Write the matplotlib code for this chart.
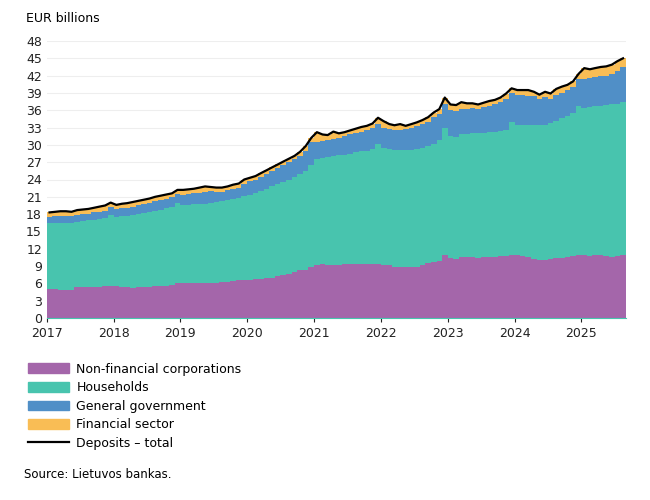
import numpy as np
import pandas as pd
import matplotlib
matplotlib.use('Agg')
import matplotlib.pyplot as plt
import matplotlib.dates as mdates
from matplotlib.patches import Patch
from matplotlib.lines import Line2D

# Monthly data, Jan 2017 - Aug 2025 (EUR billions), cumulative levels
months = pd.date_range('2017-01-01', '2025-08-01', freq='MS')

nfc = [5.0, 5.0, 4.9, 4.9, 4.8, 5.3, 5.3, 5.3, 5.4, 5.4, 5.5, 5.6,
       5.5, 5.4, 5.3, 5.2, 5.3, 5.4, 5.4, 5.6, 5.6, 5.6, 5.8, 6.0,
       6.1, 6.1, 6.0, 6.0, 6.0, 6.0, 6.1, 6.2, 6.3, 6.4, 6.5, 6.6,
       6.6, 6.7, 6.8, 6.9, 7.0, 7.2, 7.4, 7.6, 8.0, 8.3, 8.3, 8.8,
       9.1, 9.3, 9.2, 9.2, 9.2, 9.3, 9.3, 9.3, 9.3, 9.4, 9.3, 9.4,
       9.2, 9.1, 8.9, 8.9, 8.8, 8.8, 8.9, 9.2, 9.5, 9.7, 9.9, 11.0,
       10.4, 10.2, 10.6, 10.6, 10.6, 10.4, 10.6, 10.6, 10.6, 10.8, 10.7, 11.0,
       10.9, 10.8, 10.6, 10.3, 10.1, 10.0, 10.2, 10.4, 10.4, 10.6, 10.8, 10.9,
       10.9, 10.8, 10.9, 11.0, 10.7, 10.6, 10.7, 10.9]

households_top = [16.5, 16.5, 16.5, 16.5, 16.5, 16.7, 16.8, 16.9, 17.0, 17.1, 17.3, 17.9,
                  17.5, 17.6, 17.7, 17.8, 18.0, 18.2, 18.4, 18.6, 18.8, 19.0, 19.2, 19.9,
                  19.5, 19.6, 19.7, 19.7, 19.8, 19.9, 20.1, 20.3, 20.4, 20.6, 20.8, 21.2,
                  21.4, 21.7, 22.0, 22.3, 22.8, 23.2, 23.5, 24.0, 24.5, 25.0, 25.5, 26.5,
                  27.5, 27.7, 27.9, 28.0, 28.2, 28.3, 28.5, 28.7, 28.9, 29.0, 29.3, 30.2,
                  29.5, 29.3, 29.1, 29.1, 29.1, 29.1, 29.2, 29.5, 29.8, 30.2, 30.9, 33.0,
                  31.5, 31.4, 31.8, 31.9, 32.0, 32.0, 32.1, 32.2, 32.3, 32.4, 32.6, 34.0,
                  33.5, 33.5, 33.4, 33.4, 33.4, 33.4, 33.8, 34.2, 34.6, 35.0, 35.6, 36.8,
                  36.4, 36.6, 36.7, 36.8, 36.9, 37.0, 37.1, 37.5]

government_top = [17.5, 17.6, 17.6, 17.6, 17.6, 17.9, 18.0, 18.1, 18.3, 18.4, 18.6, 19.3,
                  18.9, 19.0, 19.1, 19.3, 19.5, 19.7, 19.9, 20.2, 20.5, 20.7, 20.9, 21.5,
                  21.4, 21.5, 21.6, 21.7, 21.8, 22.0, 21.9, 21.9, 22.1, 22.4, 22.6, 23.3,
                  23.7, 24.0, 24.5, 25.0, 25.5, 26.0, 26.5, 27.0, 27.5, 28.0, 28.9, 30.5,
                  30.5, 30.6, 30.8, 31.0, 31.2, 31.5, 31.8, 32.0, 32.2, 32.5, 32.9, 33.7,
                  33.0, 32.7, 32.5, 32.6, 32.7, 32.9, 33.2, 33.6, 34.0, 34.8, 35.3, 37.0,
                  36.0, 35.9, 36.2, 36.3, 36.4, 36.3, 36.5, 36.7, 37.0, 37.4, 38.0, 39.0,
                  38.6, 38.6, 38.5, 38.5, 37.9, 38.3, 38.0, 38.7, 39.0, 39.5, 40.0, 41.5,
                  41.5, 41.6, 41.8, 42.0, 42.0, 42.3, 42.8, 43.5]

total = [18.3, 18.4, 18.5, 18.5, 18.4, 18.7, 18.8, 18.9, 19.1, 19.3, 19.5, 20.0,
         19.6, 19.8, 19.9, 20.1, 20.3, 20.5, 20.7, 21.0, 21.2, 21.4, 21.6, 22.2,
         22.2, 22.3, 22.4, 22.6, 22.8, 22.7, 22.6, 22.6, 22.8, 23.1, 23.3, 24.0,
         24.3, 24.6, 25.1, 25.6, 26.1, 26.6, 27.1, 27.6, 28.1, 28.8, 29.8, 31.2,
         32.2, 31.8, 31.7, 32.3, 32.0, 32.2, 32.5, 32.8, 33.1, 33.3, 33.7, 34.7,
         34.1, 33.6, 33.4, 33.6, 33.3, 33.6, 33.9, 34.3, 34.8, 35.6, 36.2, 38.2,
         37.0, 36.9, 37.4, 37.2, 37.2, 37.0, 37.3, 37.6, 37.8, 38.2, 38.9, 39.8,
         39.5, 39.5, 39.5, 39.2, 38.7, 39.2, 38.9, 39.7, 40.1, 40.4, 41.0, 42.3,
         43.3, 43.1, 43.3, 43.5, 43.6, 43.9, 44.5, 45.0]

colors = {'nfc': '#a466aa', 'hh': '#48c4ae', 'gg': '#508fc7', 'fs': '#f9bd55'}

fig = plt.figure(figsize=(6.5, 5), dpi=100)
ax = fig.add_axes([0.072, 0.364, 0.891, 0.554])

# step edges: one extra edge at the end of the last month
edges = list(months) + [pd.Timestamp('2025-09-01')]
def ext(v):
    return list(v) + [v[-1]]

zero = [0] * len(edges)
ax.fill_between(edges, zero, ext(nfc), step='post', color=colors['nfc'], lw=0)
ax.fill_between(edges, ext(nfc), ext(households_top), step='post', color=colors['hh'], lw=0)
ax.fill_between(edges, ext(households_top), ext(government_top), step='post', color=colors['gg'], lw=0)
ax.fill_between(edges, ext(government_top), ext(total), step='post', color=colors['fs'], lw=0)
mid = months + pd.Timedelta(days=15)
ax.plot(mid, total, color='black', lw=1.6)

ax.set_ylim(0, 48)
ax.set_yticks(range(0, 49, 3))
ax.set_xlim(pd.Timestamp('2017-01-01'), pd.Timestamp('2025-09-01'))
ax.xaxis.set_major_locator(mdates.YearLocator())
ax.xaxis.set_major_formatter(mdates.DateFormatter('%Y'))
ax.tick_params(labelsize=9, colors='#222222', length=3)
ax.tick_params(axis='y', length=0)
ax.grid(axis='y', color='#eeeeee', lw=0.8)
ax.set_axisbelow(True)
for s in ['top', 'right', 'left']:
    ax.spines[s].set_visible(False)
ax.spines['bottom'].set_color('#48c4ae')

fig.text(0.04, 0.962, 'EUR billions', fontsize=9, va='center')

handles = [Patch(color=colors['nfc']), Patch(color=colors['hh']), Patch(color=colors['gg']),
           Patch(color=colors['fs']), Line2D([], [], color='black', lw=1.6)]
labels = ['Non-financial corporations', 'Households', 'General government',
          'Financial sector', 'Deposits \u2013 total']
fig.legend(handles, labels, loc='upper left', bbox_to_anchor=(0.035, 0.285), frameon=False,
           fontsize=9, handlelength=3.3, handleheight=0.8, labelspacing=0.45,
           borderaxespad=0, handletextpad=0.6)

fig.text(0.037, 0.052, 'Source: Lietuvos bankas.', fontsize=8.5, va='center')

fig.savefig('out.png', dpi=100)
